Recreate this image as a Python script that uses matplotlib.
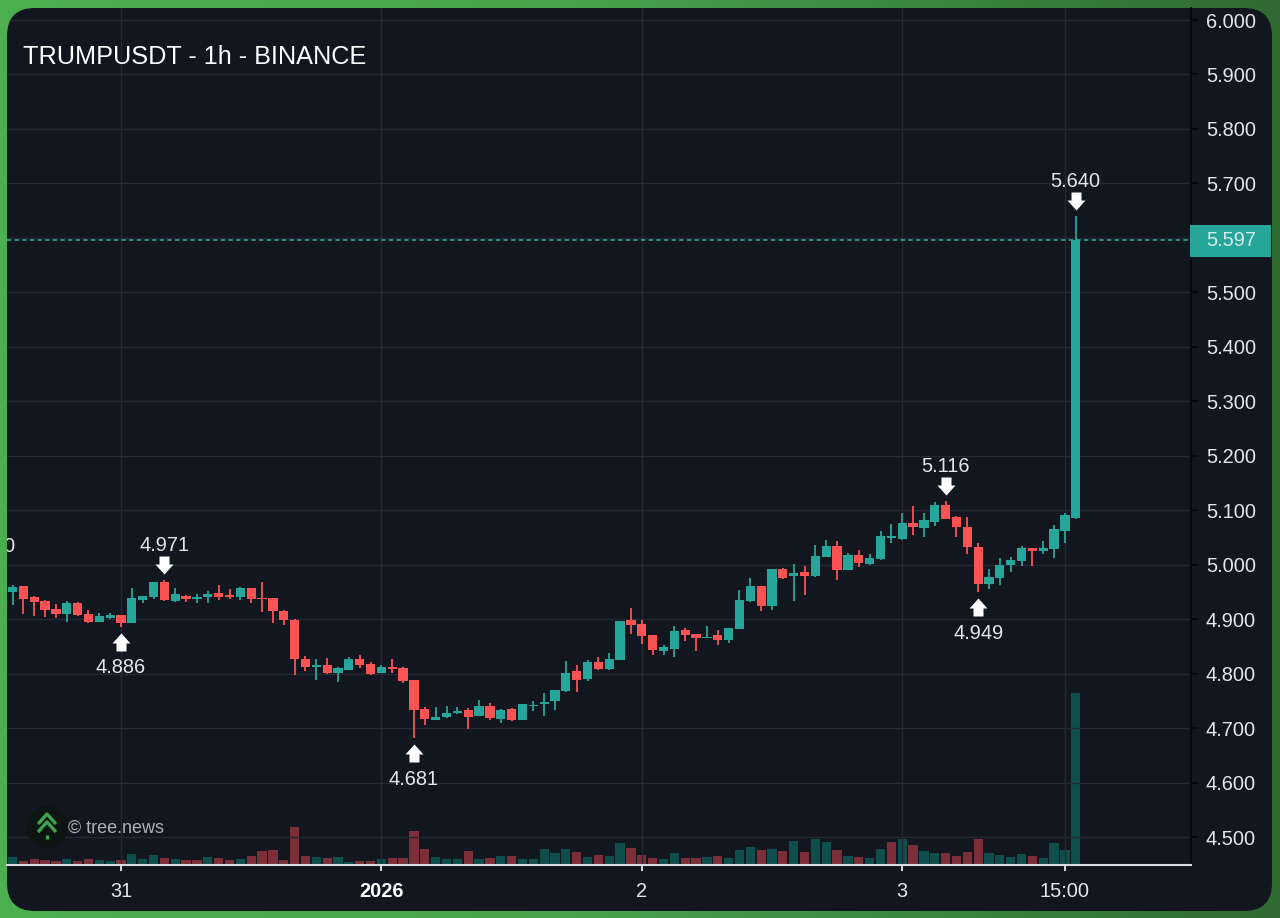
import matplotlib
matplotlib.use("Agg")
import matplotlib.pyplot as plt
import numpy as np
from matplotlib.colors import LinearSegmentedColormap
from matplotlib.patches import Circle, FancyBboxPatch, Rectangle
from matplotlib.path import Path
from matplotlib.transforms import blended_transform_factory

plt.rcParams["font.family"] = ["Liberation Sans", "DejaVu Sans"]

# hourly candles, first one is 10 bars before the "31" tick
first_bar = -10
opens = [4.950, 4.960, 4.940, 4.934, 4.919, 4.910, 4.930, 4.910, 4.895, 4.903,
         4.908, 4.893, 4.936, 4.940, 4.968, 4.933, 4.943, 4.937, 4.940, 4.948,
         4.944, 4.941, 4.957, 4.938, 4.938, 4.915, 4.899, 4.826, 4.812, 4.816,
         4.801, 4.807, 4.826, 4.818, 4.801, 4.813, 4.810, 4.789, 4.735, 4.715,
         4.720, 4.727, 4.733, 4.723, 4.741, 4.716, 4.735, 4.715, 4.741, 4.745,
         4.749, 4.768, 4.804, 4.790, 4.821, 4.808, 4.825, 4.898, 4.891, 4.871,
         4.841, 4.846, 4.880, 4.873, 4.866, 4.870, 4.861, 4.881, 4.933, 4.960,
         4.925, 4.992, 4.979, 4.987, 4.980, 5.014, 5.035, 4.991, 5.017, 5.002,
         5.011, 5.049, 5.048, 5.077, 5.068, 5.078, 5.110, 5.087, 5.069, 5.033,
         4.964, 4.976, 5.000, 5.006, 5.030, 5.025, 5.028, 5.062, 5.086]
highs = [4.963, 4.960, 4.942, 4.936, 4.927, 4.933, 4.931, 4.916, 4.912, 4.912,
         4.908, 4.957, 4.943, 4.969, 4.971, 4.957, 4.944, 4.947, 4.951, 4.962,
         4.955, 4.959, 4.958, 4.969, 4.939, 4.916, 4.900, 4.832, 4.827, 4.829,
         4.812, 4.830, 4.834, 4.821, 4.816, 4.826, 4.812, 4.789, 4.738, 4.739,
         4.741, 4.738, 4.737, 4.752, 4.746, 4.735, 4.736, 4.745, 4.750, 4.765,
         4.770, 4.824, 4.816, 4.825, 4.831, 4.837, 4.896, 4.921, 4.899, 4.871,
         4.852, 4.887, 4.883, 4.873, 4.888, 4.880, 4.883, 4.953, 4.975, 4.960,
         4.992, 4.993, 5.002, 4.998, 5.037, 5.046, 5.043, 5.022, 5.027, 5.020,
         5.061, 5.074, 5.094, 5.107, 5.094, 5.115, 5.116, 5.090, 5.088, 5.039,
         4.992, 5.013, 5.014, 5.035, 5.031, 5.044, 5.072, 5.095, 5.640]
lows = [4.926, 4.909, 4.905, 4.904, 4.903, 4.895, 4.906, 4.893, 4.894, 4.900,
        4.886, 4.893, 4.930, 4.937, 4.934, 4.932, 4.931, 4.930, 4.929, 4.935,
        4.937, 4.935, 4.929, 4.913, 4.893, 4.890, 4.798, 4.804, 4.788, 4.800,
        4.784, 4.807, 4.810, 4.798, 4.801, 4.801, 4.783, 4.681, 4.705, 4.715,
        4.719, 4.726, 4.698, 4.723, 4.714, 4.710, 4.713, 4.715, 4.732, 4.723,
        4.733, 4.767, 4.767, 4.787, 4.807, 4.807, 4.825, 4.873, 4.854, 4.834,
        4.834, 4.831, 4.859, 4.841, 4.865, 4.852, 4.857, 4.881, 4.931, 4.915,
        4.916, 4.973, 4.934, 4.945, 4.977, 5.014, 4.971, 4.990, 4.995, 5.000,
        5.009, 5.039, 5.046, 5.055, 5.050, 5.071, 5.083, 5.051, 5.019, 4.949,
        4.956, 4.962, 4.986, 4.997, 4.998, 5.020, 5.012, 5.040, 5.083]
closes = [4.959, 4.937, 4.932, 4.916, 4.910, 4.929, 4.907, 4.894, 4.906, 4.908,
          4.892, 4.938, 4.943, 4.968, 4.935, 4.946, 4.937, 4.940, 4.947, 4.941,
          4.941, 4.957, 4.937, 4.937, 4.915, 4.899, 4.826, 4.812, 4.816, 4.802,
          4.810, 4.827, 4.815, 4.799, 4.813, 4.809, 4.787, 4.734, 4.716, 4.721,
          4.728, 4.731, 4.721, 4.740, 4.718, 4.734, 4.715, 4.745, 4.743, 4.748,
          4.770, 4.802, 4.789, 4.822, 4.808, 4.826, 4.896, 4.889, 4.869, 4.843,
          4.848, 4.879, 4.870, 4.866, 4.868, 4.861, 4.883, 4.936, 4.960, 4.925,
          4.992, 4.976, 4.985, 4.979, 5.016, 5.035, 4.990, 5.017, 5.003, 5.012,
          5.052, 5.052, 5.076, 5.070, 5.082, 5.110, 5.084, 5.070, 5.032, 4.964,
          4.978, 5.000, 5.008, 5.030, 5.026, 5.030, 5.066, 5.091, 5.597]
volumes = [6.3, 3.0, 4.3, 3.3, 2.3, 4.3, 2.3, 4.3, 3.3, 2.3,
           3.3, 9.7, 4.3, 8.7, 5.7, 4.3, 4.0, 4.0, 6.7, 5.3,
           3.3, 4.3, 7.7, 12.3, 13.3, 4.0, 36.7, 8.0, 6.7, 5.7,
           6.7, 1.7, 3.0, 3.0, 4.3, 5.7, 5.7, 33.0, 15.0, 6.7,
           4.3, 4.3, 12.7, 4.7, 6.0, 7.7, 7.7, 4.3, 4.7, 15.0,
           10.3, 15.0, 11.3, 6.7, 8.7, 7.7, 21.0, 15.7, 8.7, 5.7,
           4.7, 10.3, 6.0, 5.7, 6.7, 7.7, 5.7, 13.7, 16.7, 14.0,
           15.0, 12.3, 22.3, 12.0, 25.0, 22.0, 13.7, 7.7, 6.7, 5.7,
           15.0, 22.0, 25.0, 18.7, 13.0, 11.0, 10.3, 7.7, 12.0, 24.7,
           10.3, 8.7, 6.7, 9.3, 7.7, 5.7, 20.3, 14.0, 171.0]
# two doji bars whose volume is red although the candle closes a hair up
red_volume_bars = [7, 71]

x_tick_bars = [0, 24, 48, 72, 87]
x_tick_labels = ["31", "2026", "2", "3", "15:00"]
y_ticks = [4.5, 4.6, 4.7, 4.8, 4.9, 5.0, 5.1, 5.2, 5.3, 5.4, 5.5, 5.6, 5.7, 5.8, 5.9, 6.0]

# bar, price, text, direction
peaks = [(-12, 4.970, "4.970", "down"), (0, 4.886, "4.886", "up"), (4, 4.971, "4.971", "down"),
         (27, 4.681, "4.681", "up"), (76, 5.116, "5.116", "down"), (79, 4.949, "4.949", "up"),
         (88, 5.640, "5.640", "down")]

PANEL = "#12161f"
GRID = "#252934"
UP = "#26a69a"
DOWN = "#fb5254"
UP_VOL = "#0e4f4d"
DOWN_VOL = "#7c2f38"
TEXT = "#e4e6ea"

WIDTH, HEIGHT = 1280, 918
AX_LEFT, AX_RIGHT, AX_TOP, AX_BOTTOM = 7, 1191, 8, 865
BAR_PX = 10.85
PRICE_PX = 544.67
TOP_GRID_PX = 20


def to_fig(left, right, top, bottom):
    return [left / WIDTH, 1 - bottom / HEIGHT, (right - left) / WIDTH, (bottom - top) / HEIGHT]


bars = np.arange(first_bar, first_bar + len(opens))
opens = np.array(opens)
highs = np.array(highs)
lows = np.array(lows)
closes = np.array(closes)
rising = closes >= opens

fig = plt.figure(figsize=(WIDTH / 100, HEIGHT / 100), dpi=100)

# green backdrop and rounded dark card
bg = fig.add_axes([0, 0, 1, 1], zorder=0)
bg.set_xlim(0, WIDTH)
bg.set_ylim(HEIGHT, 0)
bg.axis("off")
green = LinearSegmentedColormap.from_list("g", [(0, "#4caf50"), (0.45, "#48a44c"), (1, "#2f6b33")])
bg.imshow(np.linspace(0, 1, 256)[None, :], cmap=green, extent=(0, WIDTH, HEIGHT, 0), aspect="auto")
r = 28
panel = FancyBboxPatch((7 + r, 8 + r), 1265 - 2 * r, 903 - 2 * r,
                       boxstyle=f"round,pad={r},rounding_size={r}", fc=PANEL, ec="none")
bg.add_patch(panel)

# volume sits under the candles on its own scale
ax_vol = fig.add_axes(to_fig(AX_LEFT, AX_RIGHT, AX_TOP, AX_BOTTOM), zorder=1)
ax_vol.patch.set_visible(False)
ax_vol.axis("off")
vol_colors = [UP_VOL if up and b not in red_volume_bars else DOWN_VOL for b, up in zip(bars, rising)]
ax_vol.bar(bars, volumes, width=0.85, color=vol_colors, zorder=2)

ax = fig.add_axes(to_fig(AX_LEFT, AX_RIGHT, AX_TOP, AX_BOTTOM), zorder=2)
ax.patch.set_visible(False)

x_left = (AX_LEFT - 121) / BAR_PX
x_right = (AX_RIGHT - 121) / BAR_PX
ax.set_xlim(x_left, x_right)
ax_vol.set_xlim(x_left, x_right)
ax.set_ylim(6 - (AX_BOTTOM - TOP_GRID_PX) / PRICE_PX, 6 + (TOP_GRID_PX - AX_TOP) / PRICE_PX)
ax_vol.set_ylim(-1.3, AX_BOTTOM - AX_TOP - 1.3)

ax.set_axisbelow(True)
ax.grid(True, color=GRID, linewidth=1.0)
for line in ax.get_xgridlines() + ax.get_ygridlines():
    line.set_clip_path(panel)

colors = [UP if up else DOWN for up in rising]
ax.vlines(bars, lows, highs, colors=colors, linewidth=1.3, zorder=3)
ax.bar(bars, np.maximum(np.abs(closes - opens), 0.002), bottom=np.minimum(opens, closes),
       width=0.85, color=colors, zorder=4)

ax.set_xticks(x_tick_bars)
ax.set_xticklabels(x_tick_labels)
ax.set_yticks(y_ticks)
ax.set_yticklabels([f"{v:.3f}" for v in y_ticks])
ax.yaxis.tick_right()
ax.tick_params(axis="x", colors="#d9dbe0", labelcolor=TEXT, labelsize=14.4, length=4.5, width=1.4, pad=7.5)
ax.tick_params(axis="y", color="#05070b", labelcolor=TEXT, labelsize=14.4, length=5, width=1.2, pad=5.8)
ax.get_xticklabels()[1].set_fontweight("bold")
ax.get_xticklabels()[1].set_color("white")

for side in ["top", "left"]:
    ax.spines[side].set_visible(False)
ax.spines["bottom"].set_color("#d9dbe0")
ax.spines["bottom"].set_linewidth(1.5)
ax.spines["right"].set_color("#05070b")
ax.spines["right"].set_linewidth(1.5)

# last price line and tag
last = closes[-1]
dash = ax.axhline(last, color="#2fb3a6", linewidth=1.1, linestyle=(0, (2.8, 2.2)), zorder=2)
dash.set_clip_path(panel)
edge = blended_transform_factory(ax.transAxes, ax.transData)
tag_w = 81 / (AX_RIGHT - AX_LEFT)
tag_h = 32 / PRICE_PX
ax.add_patch(Rectangle((0.9995, last - tag_h / 2 - 1 / PRICE_PX), tag_w, tag_h, transform=edge, fc=UP, ec="none",
                       clip_on=False, zorder=6))
ax.annotate(f"{last:.3f}", xy=(1, last), xycoords=edge, xytext=(15, -1), textcoords="offset pixels",
            color="#d7ece8", fontsize=14.4, va="center", ha="left", annotation_clip=False, zorder=7)

# high / low flags: block arrow plus the price
down_arrow = Path([(-5, 24), (5, 24), (5, 16), (9, 16), (0, 6), (-9, 16), (-5, 16), (-5, 24)], closed=True)
up_arrow = Path([(-5, -24), (5, -24), (5, -16), (9, -16), (0, -6), (-9, -16), (-5, -16), (-5, -24)], closed=True)
for bar, price, label, direction in peaks:
    arrow = down_arrow if direction == "down" else up_arrow
    ax.plot(bar, price, marker=arrow, markersize=2 * 24 * 0.72, color="white", markeredgecolor="none", zorder=5,
            clip_on=True)
    offset = 34.5 if direction == "down" else -41
    note = ax.annotate(label, xy=(bar, price), xytext=(0, offset), textcoords="offset pixels", color=TEXT,
                       fontsize=14.4, ha="center", va="center", annotation_clip=False, zorder=6)
    # agg ignores path clips on text, so cut the off-screen flag at the axes edge
    note.set_clip_on(True)
    note.set_clip_box(ax.bbox)

# title and watermark in pixel space on top
top = fig.add_axes([0, 0, 1, 1], zorder=3)
top.patch.set_visible(False)
top.set_xlim(0, WIDTH)
top.set_ylim(HEIGHT, 0)
top.axis("off")
top.text(23, 56.5, "TRUMPUSDT - 1h - BINANCE", color="white", fontsize=18.2, va="center", ha="left")
top.add_patch(Circle((47, 827), 21, fc="#0c1511", ec="none"))
for y0 in [814, 822]:
    top.plot([38, 47, 56], [y0 + 10, y0, y0 + 10], color="#3fa34d", linewidth=2.4, solid_capstyle="butt")
top.plot([47, 47], [835, 839], color="#3fa34d", linewidth=2.4, solid_capstyle="butt")
top.text(68, 828, "© tree.news", color="#aeb1b6", fontsize=13, va="center", ha="left")

fig.savefig("out.png", dpi=100)
